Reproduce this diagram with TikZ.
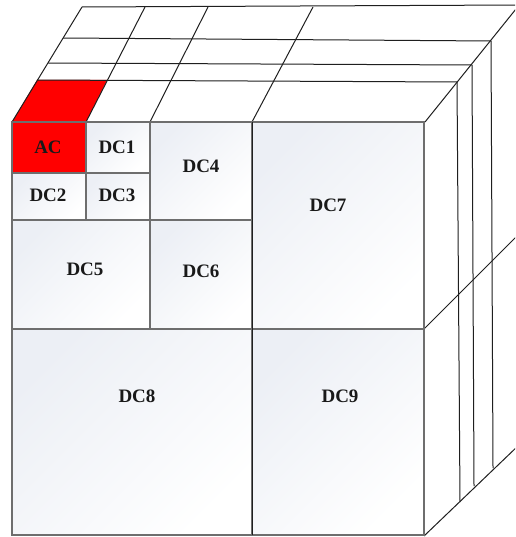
\documentclass[tikz,border=0pt]{standalone}
\usepackage{fontspec}
\setmainfont{Liberation Serif}
\begin{document}
\begin{tikzpicture}[x=1pt,y=-1pt,
  cell/.style={draw=cellline, line width=1.3pt, inner sep=0pt, outer sep=0pt,
    anchor=north west, top color=cellfill, bottom color=white, shading angle=45},
  redcell/.style={draw=cellline, line width=1.3pt, inner sep=0pt, outer sep=0pt,
    anchor=north west, fill=red},
  lab/.style={font=\fontsize{19}{22}\selectfont\bfseries, text=black!90, inner sep=0pt},
  edge/.style={draw=black!88, line width=1pt}]
\definecolor{cellline}{HTML}{6E6E6E}
\definecolor{cellfill}{HTML}{ECEFF5}
\useasboundingbox (0,0) rectangle (515,537);
\clip (0,0) rectangle (515,537);
\fill[white] (0,0) rectangle (515,537);
% ---- top face coordinates
\coordinate (f0) at (12,122);  \coordinate (f1) at (86,122);
\coordinate (f2) at (150,122); \coordinate (f3) at (252,122);
\coordinate (f4) at (425,122);
\coordinate (l1) at (37,80);  \coordinate (r1) at (457,82);
\coordinate (l2) at (48,63);  \coordinate (r2) at (472,65);
\coordinate (l3) at (63,38);  \coordinate (r3) at (491,41);
\coordinate (b0) at (82,7);   \coordinate (bR) at (520,5);
\coordinate (b1) at (145,7);  \coordinate (b2) at (208,7);
\coordinate (b3) at (313,7);  \coordinate (rT) at (520,4);
\coordinate (ar) at (107,80);
% red top parallelogram
\fill[red] (f0) -- (f1) -- (ar) -- (l1) -- cycle;
% layer lines
\draw[edge] (l1) -- (r1);
\draw[edge] (l2) -- (r2);
\draw[edge] (l3) -- (r3);
\draw[edge] (b0) -- (bR);
% depth lines on top
\draw[edge] (f0) -- (b0);
\draw[edge] (f1) -- (b1);
\draw[edge] (f2) -- (b2);
\draw[edge] (f3) -- (b3);
\draw[edge] (f4) -- (rT);
% ---- right face
\coordinate (m0) at (424,329); \coordinate (mR) at (520,233);
\coordinate (d0) at (424,536); \coordinate (dR) at (520,444);
\coordinate (v1) at (460,502); \coordinate (v2) at (474,486);
\coordinate (v3) at (493,468);
\draw[edge] (r1) -- (v1);
\draw[edge] (r2) -- (v2);
\draw[edge] (r3) -- (v3);
\draw[edge] (m0) -- (mR);
\draw[edge] (d0) -- (dR);
% ---- front face cells
\node[redcell, minimum width=74pt, minimum height=51pt] (ac) at (12,122) {};
\node[cell, minimum width=64pt, minimum height=51pt] (dc1) at (86,122) {};
\node[cell, minimum width=74pt, minimum height=47pt] (dc2) at (12,173) {};
\node[cell, minimum width=64pt, minimum height=47pt] (dc3) at (86,173) {};
\node[cell, minimum width=102pt, minimum height=98pt] (dc4) at (150,122) {};
\node[cell, minimum width=138pt, minimum height=109pt] (dc5) at (12,220) {};
\node[cell, minimum width=102pt, minimum height=109pt] (dc6) at (150,220) {};
\node[cell, minimum width=172pt, minimum height=207pt] (dc7) at (252,122) {};
\node[cell, minimum width=240pt, minimum height=206pt] (dc8) at (12,329) {};
\node[cell, minimum width=172pt, minimum height=206pt] (dc9) at (252,329) {};
\draw[edge] (dc7.north west) -- (dc9.south west);
% ---- labels
\node[lab] (tac) at (48,147) {AC};
\node[lab] (t1) at (117,147) {DC1};
\node[lab] (t2) at (48,195) {DC2};
\node[lab] (t3) at (117,195) {DC3};
\node[lab] (t4) at (201,166) {DC4};
\node[lab] (t5) at (85,269) {DC5};
\node[lab] (t6) at (201,271) {DC6};
\node[lab] (t7) at (328,205) {DC7};
\node[lab] (t8) at (137,396) {DC8};
\node[lab] (t9) at (340,396) {DC9};
\end{tikzpicture}
\end{document}
